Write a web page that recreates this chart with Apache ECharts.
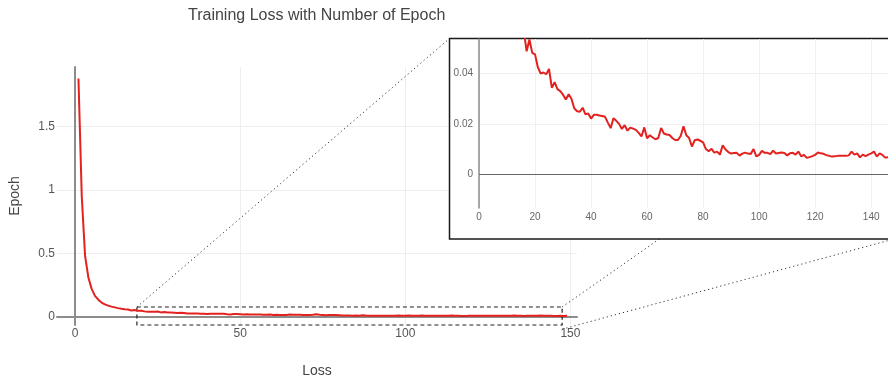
<!DOCTYPE html>
<html>
<head>
<meta charset="utf-8">
<title>Training Loss with Number of Epoch</title>
<script src="https://cdn.jsdelivr.net/npm/echarts@6/dist/echarts.min.js"></script>
<style>
  html, body { margin: 0; padding: 0; background: #fff; }
  #chart { width: 888px; height: 381px; }
</style>
</head>
<body>
<div id="chart"></div>
<script>
// loss per epoch (epoch 1 .. 149)
const lossValues = [
  1.88, 0.95, 0.48, 0.31, 0.22, 0.165, 0.135, 0.112, 0.098, 0.088,
  0.080, 0.074, 0.068, 0.063, 0.059, 0.057, 0.0488, 0.0535, 0.0482, 0.0476,
  0.0425, 0.0400, 0.0404, 0.0397, 0.0418, 0.0343, 0.0366, 0.0338, 0.0330, 0.0316,
  0.0297, 0.0318, 0.0300, 0.0262, 0.0250, 0.0248, 0.0264, 0.0238, 0.0241, 0.0221,
  0.0236, 0.0236, 0.0233, 0.0231, 0.0228, 0.0205, 0.0183, 0.0222, 0.0212, 0.0200,
  0.0180, 0.0195, 0.0173, 0.0185, 0.0181, 0.0176, 0.0164, 0.0150, 0.0186, 0.0143,
  0.0155, 0.0146, 0.0139, 0.0144, 0.0184, 0.0162, 0.0158, 0.0156, 0.0144, 0.0136,
  0.0136, 0.0152, 0.0190, 0.0155, 0.0144, 0.0110, 0.0135, 0.0138, 0.0133, 0.0127,
  0.0100, 0.0091, 0.0101, 0.0086, 0.0090, 0.0078, 0.0115, 0.0098, 0.0088, 0.0082,
  0.0084, 0.0085, 0.0074, 0.0082, 0.0086, 0.0082, 0.0080, 0.0100, 0.0071, 0.0077,
  0.0093, 0.0085, 0.0085, 0.0080, 0.0094, 0.0082, 0.0084, 0.0086, 0.0084, 0.0075,
  0.0083, 0.0085, 0.0078, 0.0090, 0.0071, 0.0077, 0.0065, 0.0068, 0.0072, 0.0077,
  0.0086, 0.0083, 0.0081, 0.0076, 0.0073, 0.0070, 0.0071, 0.0073, 0.0073, 0.0073,
  0.0073, 0.0075, 0.0090, 0.0078, 0.0083, 0.0067, 0.0078, 0.0072, 0.0078, 0.0083,
  0.0090, 0.0070, 0.0083, 0.0077, 0.0066, 0.0068, 0.0075, 0.0067, 0.0072
];
const lossPoints = lossValues.map((v, i) => [i + 1, v]);

// tick labels
const mainXTicks = [0, 50, 100, 150];
const mainYTicks = [0, 0.5, 1, 1.5];
const insetXTicks = [0, 20, 40, 60, 80, 100, 120, 140];
const insetYTicks = [0, 0.02, 0.04];

// zoomed region (data coords of main chart)
const zoomX = [18.7, 147.5];
const zoomY = [-0.098, 0.077];

const chartTitle = "Training Loss with Number of Epoch";
const lineColor = "#e3211f";
const font = "Liberation Sans, Arial, sans-serif";

// inset frame (pixels)
const insetBox = { x: 449.5, y: 38.5, w: 444.5, h: 200.5 };

let chart = echarts.init(document.getElementById("chart"), null, { renderer: "canvas" });

const option = {
  animation: false,
  textStyle: { fontFamily: font },
  title: {
    text: chartTitle,
    left: 183,
    top: 3,
    textStyle: { fontSize: 16, fontWeight: "normal", color: "#444", fontFamily: font },
  },
  grid: [
    { left: 57, right: 311, top: 67, bottom: 56, containLabel: false, outerBoundsMode: "none" },
    { left: 479, right: 0, top: 39, bottom: 173, containLabel: false, outerBoundsMode: "none" },
  ],
  xAxis: [
    {
      type: "value",
      gridIndex: 0,
      min: -5.5,
      max: 152,
      name: "Loss",
      nameLocation: "middle",
      nameGap: 39,
      nameTextStyle: { fontSize: 14, color: "#444" },
      axisLine: { onZero: true, lineStyle: { color: "#8c8c8c", width: 2 } },
      axisTick: { show: false, customValues: mainXTicks },
      axisLabel: { customValues: mainXTicks, margin: 3, fontSize: 12, color: "#555" },
      splitLine: { lineStyle: { color: "#eeeeee", width: 1 } },
    },
    {
      type: "value",
      gridIndex: 1,
      min: 0,
      max: 146,
      z: 4,
      axisLine: { show: false },
      axisTick: { show: false, customValues: insetXTicks },
      axisLabel: { customValues: insetXTicks, margin: 4, fontSize: 10, color: "#666" },
      splitLine: { lineStyle: { color: "#f0f0f0", width: 1 } },
    },
  ],
  yAxis: [
    {
      type: "value",
      gridIndex: 0,
      min: -0.065,
      max: 1.97,
      name: "Epoch",
      nameLocation: "middle",
      nameGap: 35,
      nameTextStyle: { fontSize: 14, color: "#444" },
      axisLine: { show: true, onZero: true, lineStyle: { color: "#8c8c8c", width: 2 } },
      axisTick: { show: false, customValues: mainYTicks },
      axisLabel: { customValues: mainYTicks, margin: 2, fontSize: 12, color: "#555" },
      splitLine: { lineStyle: { color: "#eeeeee", width: 1 } },
    },
    {
      type: "value",
      gridIndex: 1,
      min: -0.0134,
      max: 0.0537,
      z: 4,
      axisLine: { show: true, onZero: false, lineStyle: { color: "#8c8c8c", width: 1.5 } },
      axisTick: { show: false, customValues: insetYTicks },
      axisLabel: { customValues: insetYTicks, margin: 6, fontSize: 10, color: "#666" },
      splitLine: { lineStyle: { color: "#f0f0f0", width: 1 } },
    },
  ],
  series: [
    {
      type: "line",
      xAxisIndex: 0,
      yAxisIndex: 0,
      data: lossPoints,
      showSymbol: false,
      color: lineColor,
      lineStyle: { width: 2 },
      z: 2,
      markArea: {
        silent: true,
        itemStyle: {
          color: "rgba(0,0,0,0)",
          borderColor: "#222",
          borderWidth: 1.2,
          borderType: [4, 3],
        },
        data: [[{ coord: [zoomX[0], zoomY[1]] }, { coord: [zoomX[1], zoomY[0]] }]],
      },
    },
    {
      type: "line",
      xAxisIndex: 1,
      yAxisIndex: 1,
      data: lossPoints,
      showSymbol: false,
      color: lineColor,
      lineStyle: { width: 2 },
      z: 5,
      markLine: {
        silent: true,
        symbol: "none",
        label: { show: false },
        lineStyle: { color: "#666", width: 1.2, type: "solid" },
        data: [{ yAxis: 0 }],
      },
    },
  ],
};

chart.setOption(option);

// 放大框的角点 -> 插图框的连接虚线
const tl = chart.convertToPixel({ gridIndex: 0 }, [zoomX[0], zoomY[1]]);
const tr = chart.convertToPixel({ gridIndex: 0 }, [zoomX[1], zoomY[1]]);
const br = chart.convertToPixel({ gridIndex: 0 }, [zoomX[1], zoomY[0]]);
const dotStyle = { stroke: "#333", lineWidth: 1, lineDash: [1.2, 3] };

chart.setOption({
  graphic: [
    { type: "line", z: 1, shape: { x1: tl[0], y1: tl[1], x2: insetBox.x, y2: insetBox.y }, style: dotStyle },
    { type: "line", z: 1, shape: { x1: tr[0], y1: tr[1], x2: 946, y2: insetBox.y }, style: dotStyle },
    { type: "line", z: 1, shape: { x1: br[0], y1: br[1], x2: insetBox.x + insetBox.w, y2: insetBox.y + insetBox.h }, style: dotStyle },
    {
      type: "rect",
      z: 3,
      shape: { x: insetBox.x, y: insetBox.y, width: insetBox.w, height: insetBox.h },
      style: { fill: "#fff", stroke: "#1a1a1a", lineWidth: 1.5 },
    },
  ],
});

window.addEventListener("resize", () => chart.resize());
</script>
</body>
</html>
